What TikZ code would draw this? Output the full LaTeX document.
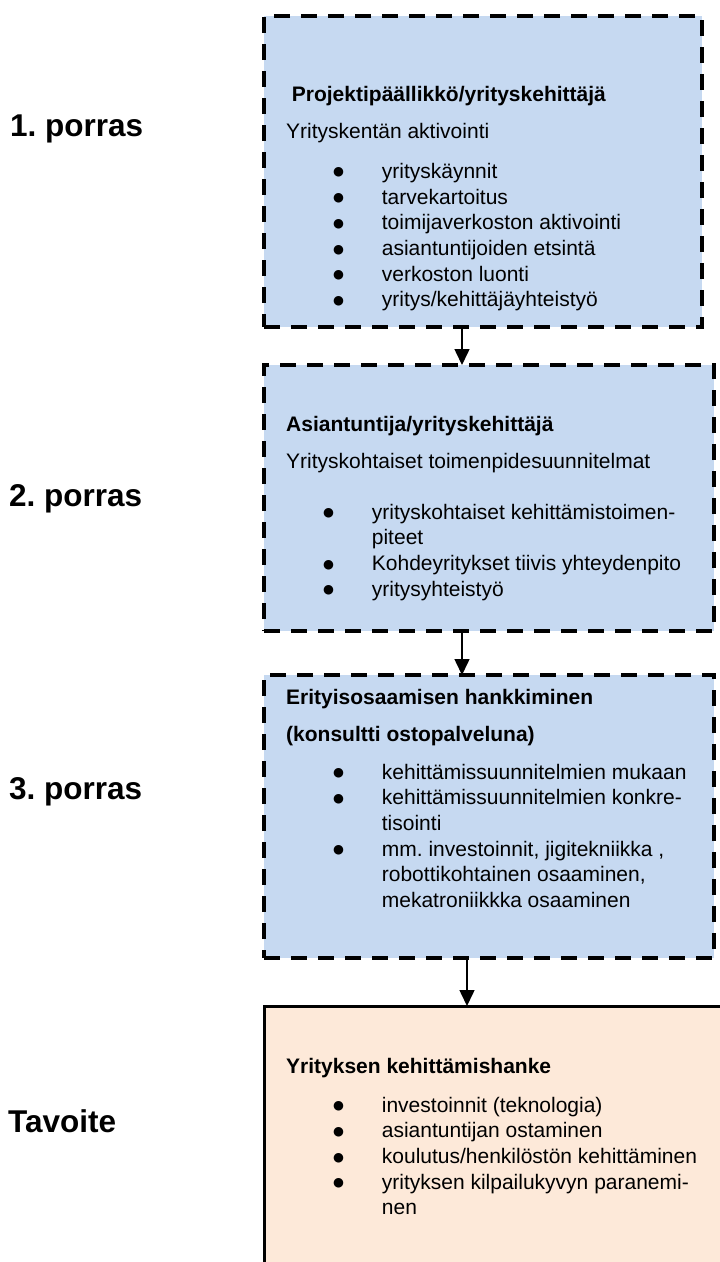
\documentclass[tikz,border=0pt]{standalone}
\usepackage{fontspec}
\setmainfont{Liberation Sans}
\newfontfamily\dotfont{DejaVu Sans}
\usetikzlibrary{arrows.meta}
\definecolor{stageblue}{RGB}{198,217,241}
\definecolor{goalpeach}{RGB}{253,233,217}
\newcommand\bulletcell{\makebox[47.4pt][l]{\hspace{-1.3pt}\raisebox{2.4pt}{\dotfont\fontsize{12.5}{12.5}\selectfont ●}}}
\frenchspacing
\begin{document}
\frenchspacing
\begin{tikzpicture}[x=1pt,y=-1pt,
  stagebox/.style={draw=black, line width=3.8pt, dash pattern=on 16pt off 11pt, fill=stageblue, inner sep=0pt, outer sep=0pt, anchor=north west},
  goalbox/.style={draw=black, line width=3pt, fill=goalpeach, inner sep=0pt, outer sep=0pt, anchor=north west},
  lbl/.style={anchor=base west, inner sep=0pt, font=\fontsize{31.5}{38}\selectfont\bfseries},
  txt/.style={anchor=base west, inner sep=0pt, font=\fontsize{21}{25.7}\selectfont},
  ttl/.style={anchor=base west, inner sep=0pt, font=\fontsize{21}{25.7}\selectfont\bfseries},
  arr/.style={line width=1.5pt, -{Triangle[width=15pt,length=16pt]}}
]
\clip (0,0) rectangle (720,1262);

% boxes
\node[stagebox, minimum width=438pt, minimum height=311pt] (b1) at (264,16) {};
\node[stagebox, minimum width=450pt, minimum height=266pt] (b2) at (264,365) {};
\node[stagebox, minimum width=450pt, minimum height=283pt] (b3) at (264,675) {};
\node[goalbox, minimum width=520pt, minimum height=320pt] (b4) at (264,1006) {};

% arrows
\coordinate (ax1) at (462,0);
\coordinate (ax3) at (467,0);
\draw[arr] (ax1 |- b1.south) -- (ax1 |- b2.north);
\draw[arr] (ax1 |- b2.south) -- (ax1 |- b3.north);
\draw[arr] (ax3 |- b3.south) -- (ax3 |- b4.north);

% left labels
\node[lbl] (s1) at (10,136) {1.\ porras};
\node[lbl] (s2) at (9,506) {2.\ porras};
\node[lbl] (s3) at (9,799) {3.\ porras};
\node[lbl] (s4) at (8,1132) {Tavoite};

% box 1
\node[ttl] (t1) at (291.7,101.7) {Projektipäällikkö/yrityskehittäjä};
\node[txt] (h1) at (286,138) {Yrityskentän aktivointi};
\node[txt] (l1) at (334.3,178.3) {\begin{tabular}[t]{@{}l@{}l@{}}
\bulletcell & yrityskäynnit\\
\bulletcell & tarvekartoitus\\
\bulletcell & toimijaverkoston aktivointi\\
\bulletcell & asiantuntijoiden etsintä\\
\bulletcell & verkoston luonti\\
\bulletcell & yritys/kehittäjäyhteistyö
\end{tabular}};

% box 2
\node[ttl] (t2) at (286,431.7) {Asiantuntija/yrityskehittäjä};
\node[txt] (h2) at (286,468) {Yrityskohtaiset toimenpidesuunnitelmat};
\node[txt] (l2) at (324.3,519) {\begin{tabular}[t]{@{}l@{}l@{}}
\bulletcell & yrityskohtaiset kehittämistoimen-\\
 & piteet\\
\bulletcell & Kohdeyritykset tiivis yhteydenpito\\
\bulletcell & yritysyhteistyö
\end{tabular}};

% box 3
\node[ttl] (t3) at (286,704) {Erityisosaamisen hankkiminen};
\node[ttl] (h3) at (286,741) {(konsultti ostopalveluna)};
\node[txt] (l3) at (334.3,779) {\begin{tabular}[t]{@{}l@{}l@{}}
\bulletcell & kehittämissuunnitelmien mukaan\\
\bulletcell & kehittämissuunnitelmien konkre-\\
 & tisointi\\
\bulletcell & mm.\ investoinnit, jigitekniikka ,\\
 & robottikohtainen osaaminen,\\
 & mekatroniikkka osaaminen
\end{tabular}};

% box 4
\node[ttl] (t4) at (286,1073) {Yrityksen kehittämishanke};
\node[txt] (l4) at (334.3,1112) {\begin{tabular}[t]{@{}l@{}l@{}}
\bulletcell & investoinnit (teknologia)\\
\bulletcell & asiantuntijan ostaminen\\
\bulletcell & koulutus/henkilöstön kehittäminen\\
\bulletcell & yrityksen kilpailukyvyn paranemi-\\
 & nen
\end{tabular}};
\end{tikzpicture}
\end{document}
